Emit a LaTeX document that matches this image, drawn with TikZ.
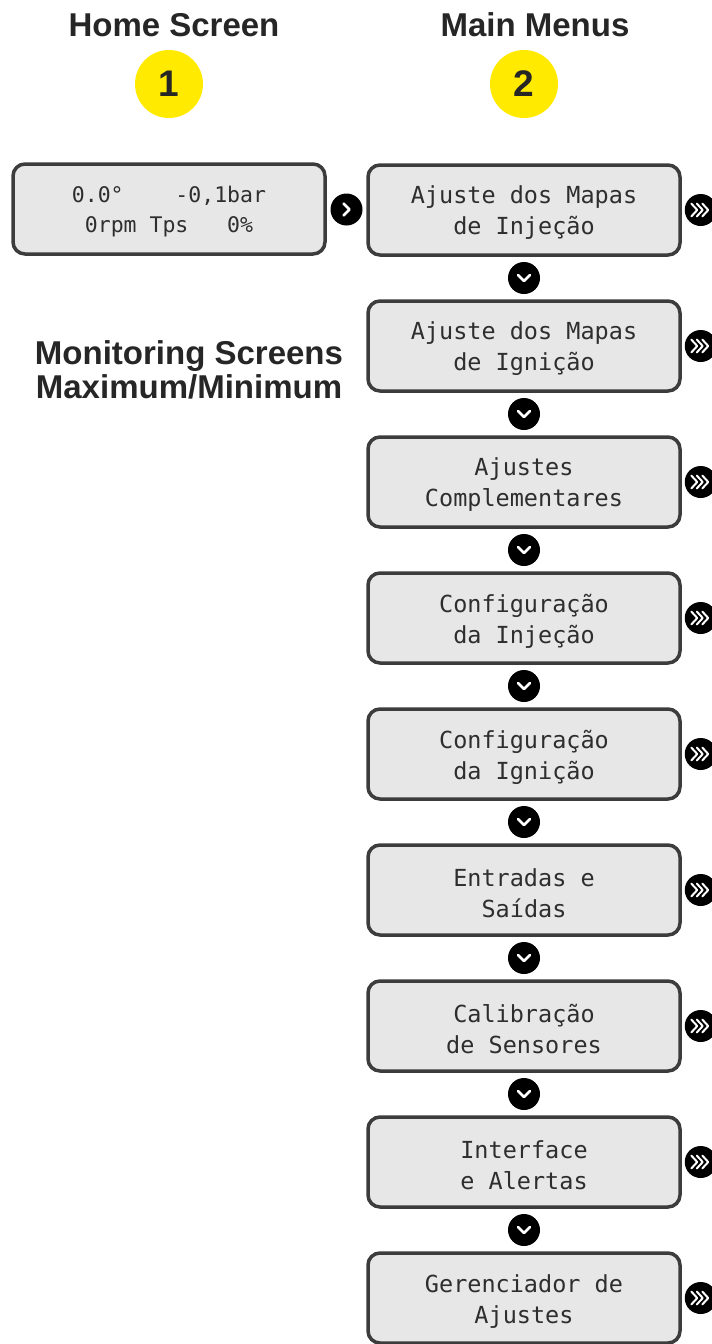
\documentclass[tikz,border=0pt]{standalone}
\usepackage{fontspec}
\setmainfont{Liberation Sans}
\newfontfamily\lcd{DejaVu Sans Mono}
\usetikzlibrary{calc}
\definecolor{boxline}{HTML}{3C3C3C}
\definecolor{boxfill}{HTML}{E7E7E7}
\definecolor{lcdtext}{HTML}{2E2E2E}
\definecolor{titletext}{HTML}{262626}
\definecolor{badgeyellow}{HTML}{FFEA00}
\begin{document}
\begin{tikzpicture}[x=1pt,y=-1pt,
  lcdbox/.style={draw=boxline, line width=3.5pt, rounded corners=12pt, fill=boxfill,
    minimum width=312pt, minimum height=90pt, inner sep=0pt},
  lcdlabel/.style={inner sep=0pt, font=\lcd\fontsize{23.5}{31}\selectfont, text=lcdtext, align=center},
  navdot/.style={circle, fill=black, minimum size=32pt, inner sep=0pt},
  chev/.style={draw=white, line width=2.6pt, line cap=round, line join=round},
  chevs/.style={draw=white, line width=2pt, line cap=round, line join=round},
  title/.style={font=\bfseries\fontsize{33}{36}\selectfont, text=titletext},
  badge/.style={circle, fill=badgeyellow, minimum size=68pt, inner sep=0pt,
    font=\bfseries\fontsize{37}{40}\selectfont, text=titletext}]
\useasboundingbox (0,0) rectangle (712,1344);
\fill[white] (0,0) rectangle (712,1344);

% titles and badges
\node[title] (t1) at (174,25) {Home Screen};
\node[title] (t2) at (535,25) {Main Menus};
\node[badge] (b1) at (169,84) {1};
\node[badge] (b2) at (524,84) {2};

% monitoring text
\node[font=\bfseries\fontsize{33}{34}\selectfont, text=titletext, align=center] (mon) at (189,370)
  {Monitoring Screens\\Maximum/Minimum};

% home screen
\node[lcdbox] (home) at (169,209) {};
\node[lcdlabel, font=\lcd\fontsize{21.5}{30}\selectfont] (home-t) at ([yshift=-3pt]home.center)
  {0.0°\ \ \ \ -0,1bar\\0rpm Tps\ \ \ 0\%};

% menus
\foreach \i/\txt in {1/{Ajuste dos Mapas\\de Injeção},
                     2/{Ajuste dos Mapas\\de Ignição},
                     3/{Ajustes\\Complementares},
                     4/{Configuração\\da Injeção},
                     5/{Configuração\\da Ignição},
                     6/{Entradas e\\Saídas},
                     7/{Calibração\\de Sensores},
                     8/{Interface\\e Alertas},
                     9/{Gerenciador de\\Ajustes}} {
  \node[lcdbox] (m\i) at (524,{210+136*(\i-1)}) {};
  \node[lcdlabel] (m\i-t) at ([yshift=-3pt]m\i.center) {\txt};
}

% home -> menu arrow
\node[navdot] (rt) at ($(home.east)!0.5!(m1.west)$) {};
\draw[chev] ([shift={(-3,-6)}]rt.center) -- ([shift={(3,0)}]rt.center) -- ([shift={(-3,6)}]rt.center);

% down arrows
\foreach \i [evaluate=\i as \j using int(\i+1)] in {1,...,8} {
  \node[navdot] (dn\i) at ($(m\i.south)!0.5!(m\j.north)$) {};
  \draw[chev] ([shift={(-6,-3)}]dn\i.center) -- ([shift={(0,3)}]dn\i.center) -- ([shift={(6,-3)}]dn\i.center);
}

% submenu arrows
\foreach \i in {1,...,9} {
  \node[navdot] (ff\i) at ([xshift=19pt]m\i.east) {};
  \foreach \dx in {-6.5,-1,4.5}
    \draw[chevs] ([shift={(\dx-3,-6.5)}]ff\i.center) -- ([shift={(\dx+3,0)}]ff\i.center) -- ([shift={(\dx-3,6.5)}]ff\i.center);
}
\end{tikzpicture}
\end{document}
